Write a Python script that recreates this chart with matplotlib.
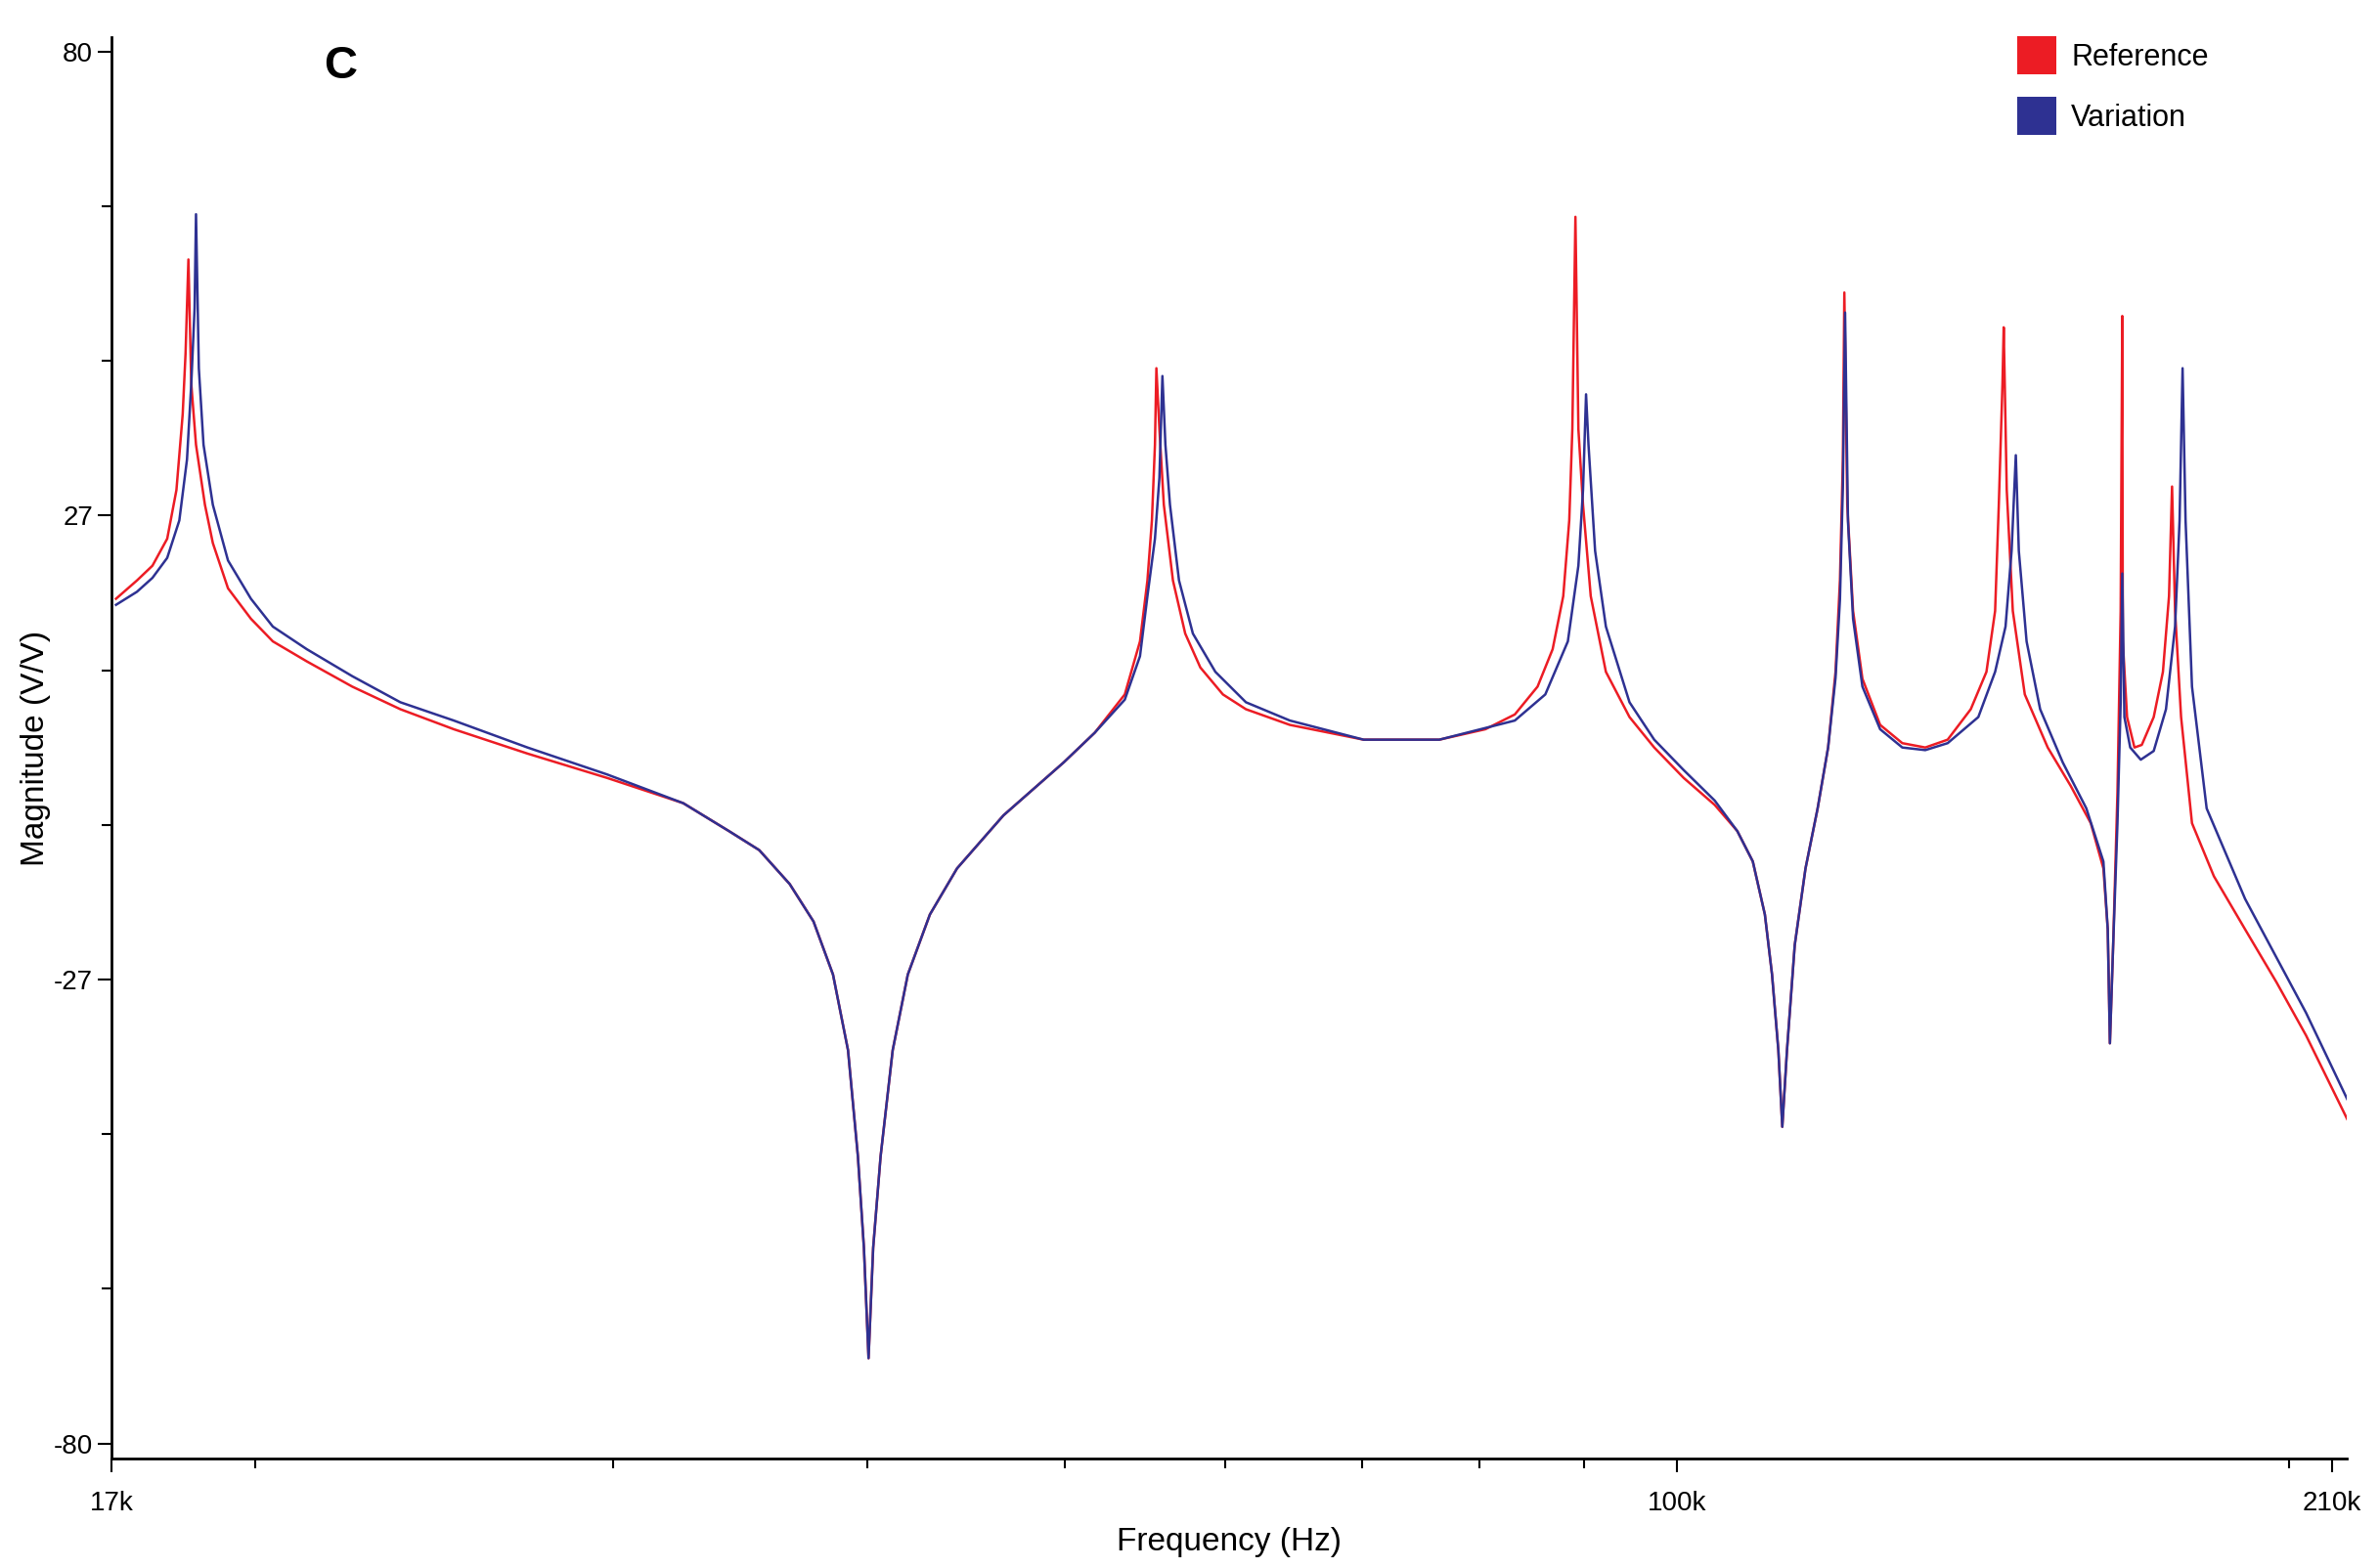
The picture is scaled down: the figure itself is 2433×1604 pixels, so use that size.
import matplotlib
matplotlib.use("Agg")
import matplotlib.pyplot as plt
from matplotlib.patches import Patch
from matplotlib.ticker import FixedLocator, NullFormatter

plt.rcParams['font.family'] = ['Liberation Sans', 'DejaVu Sans']

# (frequency kHz, magnitude dB)
ref_points = [(17.09,17.1),(17.50,19.2),(17.81,20.9),(18.11,24.0),(18.30,29.6),(18.43,38.3),(18.49,45.3),(18.55,56.1),
    (18.61,41.8),(18.71,34.8),(18.90,27.9),(19.07,23.5),(19.40,18.3),(19.91,14.8),(20.41,12.2),(21.21,9.9),(22.33,7.0),
    (23.58,4.4),(25.05,2.1),(27.23,-0.7),(29.80,-3.5),(32.48,-6.4),(34.20,-9.6),(35.40,-11.8),(36.64,-15.7),(37.64,-20.0),
    (38.48,-26.1),(39.14,-34.8),(39.58,-47.0),(39.85,-57.5),(40.06,-70.2),(40.27,-57.5),(40.61,-47.0),(41.17,-34.8),
    (41.88,-26.1),(42.94,-19.2),(44.28,-13.9),(46.67,-7.8),(49.97,-1.7),(51.75,1.7),(53.54,6.1),(54.47,12.2),(54.93,19.2),
    (55.21,26.1),(55.40,34.8),(55.49,43.6),(55.68,36.6),(55.96,27.9),(56.54,19.2),(57.33,13.1),(58.32,9.2),(59.83,6.1),
    (61.41,4.4),(64.54,2.6),(70.16,0.9),(76.44,0.9),(80.53,2.1),(83.26,3.8),(85.43,7.0),(86.90,11.3),(87.95,17.4),
    (88.55,26.1),(88.86,36.6),(89.17,61.0),(89.47,36.6),(89.94,27.9),(90.73,17.4),(92.30,8.7),(94.80,3.5),(97.49,0.0),
    (100.8,-3.5),(104.4,-6.6),(107.1,-9.6),(109.0,-13.1),(110.5,-19.2),(111.4,-26.1),(112.2,-34.8),(112.7,-43.6),
    (113.3,-34.8),(114.3,-22.7),(115.7,-13.9),(117.3,-7.0),(118.7,0.0),(119.7,8.7),(120.3,19.2),(120.7,33.1),(120.9,52.3),
    (121.3,27.9),(122.1,15.7),(123.4,7.9),(125.9,2.6),(129.1,0.5),(132.5,0.0),(135.9,0.9),(139.5,4.4),(142.0,8.7),
    (143.4,15.7),(144.0,27.9),(144.6,41.8),(144.8,48.3),(145.3,29.6),(146.3,15.7),(148.3,6.1),(152.2,0.0),(156.2,-4.4),
    (159.8,-8.7),(162.1,-13.9),(162.9,-20.9),(163.3,-34.0),(163.9,-22.7),(164.7,-5.2),(165.3,15.7),(165.6,49.6),
    (165.7,12.2),(166.5,3.5),(167.9,0.0),(169.3,0.3),(171.6,3.5),(173.4,8.7),(174.6,17.4),(175.2,30.0),(175.8,15.7),
    (177.0,3.5),(179.2,-8.7),(183.7,-14.8),(190.3,-20.9),(197.2,-27.0),(203.9,-33.1),(213.6,-42.7)]

var_points = [(17.09,16.4),(17.50,17.9),(17.81,19.5),(18.11,21.8),(18.36,26.1),(18.52,33.1),(18.61,41.8),(18.68,50.5),
    (18.71,61.3),(18.77,43.6),(18.87,34.8),(19.07,27.9),(19.40,21.5),(19.91,17.1),(20.41,13.9),(21.21,11.3),(22.33,8.2),
    (23.58,5.2),(25.05,3.1),(27.23,0.0),(29.80,-3.1),(32.48,-6.4),(34.20,-9.6),(35.40,-11.8),(36.64,-15.7),(37.64,-20.0),
    (38.48,-26.1),(39.14,-34.8),(39.58,-47.0),(39.85,-57.5),(40.06,-70.2),(40.27,-57.5),(40.61,-47.0),(41.17,-34.8),
    (41.88,-26.1),(42.94,-19.2),(44.28,-13.9),(46.67,-7.8),(49.97,-1.7),(51.75,1.7),(53.54,5.5),(54.47,10.5),(54.93,17.4),
    (55.40,24.0),(55.68,31.0),(55.87,42.7),(56.06,34.8),(56.35,27.9),(56.93,19.2),(57.83,13.1),(59.32,8.7),(61.41,5.2),
    (64.54,3.1),(70.16,0.9),(76.44,0.9),(83.26,3.1),(86.18,6.1),(88.41,12.2),(89.47,20.9),(89.94,29.6),(90.25,40.6),
    (90.50,34.8),(91.18,22.6),(92.30,13.9),(94.80,5.2),(97.49,0.9),(100.8,-2.6),(104.4,-6.1),(107.1,-9.6),(109.0,-13.1),
    (110.5,-19.2),(111.4,-26.1),(112.2,-34.8),(112.7,-43.6),(113.3,-34.8),(114.3,-22.7),(115.7,-13.9),(117.3,-7.0),
    (118.7,0.0),(119.7,8.0),(120.3,17.0),(120.7,30.0),(121.0,50.0),(121.4,26.0),(122.1,14.8),(123.4,7.0),(125.9,2.1),
    (129.1,0.0),(132.5,-0.3),(135.9,0.5),(140.7,3.5),(143.4,8.7),(145.1,13.9),(146.1,22.6),(146.8,33.6),(147.3,22.6),
    (148.6,12.2),(150.9,4.4),(154.8,-1.7),(159.0,-7.0),(162.1,-13.1),(162.9,-20.9),(163.3,-34.0),(163.9,-22.7),
    (164.7,-8.7),(165.3,5.2),(165.6,20.0),(166.0,3.5),(167.1,0.0),(169.1,-1.4),(171.6,-0.4),(174.0,4.4),(175.8,13.9),
    (176.7,26.1),(177.3,43.6),(177.9,26.1),(179.2,7.0),(182.2,-7.0),(190.3,-17.4),(203.9,-30.5),(213.6,-40.4)]

ref_f = [p[0] for p in ref_points]
ref_db = [p[1] for p in ref_points]
var_f = [p[0] for p in var_points]
var_db = [p[1] for p in var_points]

x_ticks = [17, 100, 210]
x_labels = ["17k", "100k", "210k"]
y_labels = ["80", "27", "-27", "-80"]

RED = "#ec1c24"
BLUE = "#2e3192"

fig = plt.figure(figsize=(24.33, 16.04), dpi=100)
ax = fig.add_axes([0.0468, 0.07, 0.9398, 0.906])
ax.plot(ref_f, ref_db, color=RED, lw=1.8)
ax.plot(var_f, var_db, color=BLUE, lw=1.8)
ax.set_xscale('log')
ax.set_xlim(17, 213.6)
ax.set_ylim(-81.7, 81.6)

ax.xaxis.set_major_locator(FixedLocator(x_ticks))
ax.set_xticklabels(x_labels)
ax.xaxis.set_minor_locator(FixedLocator([20, 30, 40, 50, 60, 70, 80, 90, 200]))
ax.xaxis.set_minor_formatter(NullFormatter())
yt = [80 - i * 160 / 9 for i in range(10)]
ax.yaxis.set_major_locator(FixedLocator([80, 80 - 3 * 160 / 9, 80 - 6 * 160 / 9, -80]))
ax.set_yticklabels(y_labels)
ax.yaxis.set_minor_locator(FixedLocator(yt))
ax.tick_params(which='both', direction='out', labelsize=20, width=1.5)
ax.tick_params(which='major', length=10)
ax.tick_params(which='minor', length=7)
ax.tick_params(axis='x', pad=14)
for s in ['top', 'right']:
    ax.spines[s].set_visible(False)
for s in ['left', 'bottom']:
    ax.spines[s].set_linewidth(2)

ax.set_xlabel("Frequency (Hz)", fontsize=24, labelpad=8)
ax.set_ylabel("Magnitude (V/V)", fontsize=24, labelpad=2)
ax.text(0.095, 0.995, "C", transform=ax.transAxes, fontsize=34, fontweight='bold', va='top')

handles = [Patch(facecolor=RED, label="Reference"), Patch(facecolor=BLUE, label="Variation")]
ax.legend(handles=handles, loc='upper right', bbox_to_anchor=(0.95, 1.02), frameon=False,
          fontsize=22, handlelength=1.3, handleheight=1.6, handletextpad=0.5, labelspacing=0.75)

fig.savefig("out.png", dpi=100)
